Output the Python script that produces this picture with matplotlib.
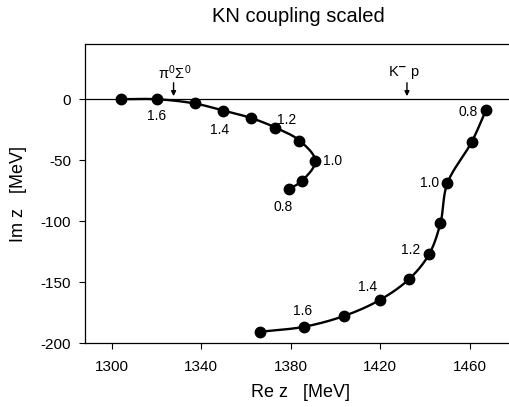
import numpy as np
import matplotlib
matplotlib.use("Agg")
import matplotlib.pyplot as plt

plt.rcParams['font.family'] = ['Liberation Sans', 'DejaVu Sans']
plt.rcParams['mathtext.fontset'] = 'custom'
plt.rcParams['mathtext.rm'] = 'Liberation Sans'
plt.rcParams['mathtext.it'] = 'Liberation Sans'
plt.rcParams['axes.unicode_minus'] = False

# coupling scale values
coupling = [1.7, 1.6, 1.5, 1.4, 1.3, 1.2, 1.1, 1.0, 0.9, 0.8]

# pole 1 (near pi0 Sigma0 threshold)
pole1_re = [1304.1, 1320.0, 1337.1, 1349.9, 1362.1, 1373.1, 1383.9, 1391.0, 1384.9, 1379.1]
pole1_im = [0.0, 0.0, -3.5, -9.3, -15.3, -23.2, -33.9, -50.6, -67.0, -73.8]

# pole 2 (near K- p threshold)
pole2_re = [1366.1, 1385.8, 1404.0, 1419.9, 1432.9, 1441.8, 1446.9, 1450.0, 1460.9, 1467.4]
pole2_im = [-190.6, -186.5, -177.5, -164.4, -147.4, -127.2, -101.7, -68.9, -35.0, -8.5]

labels1 = {1.6: (0, 17), 1.4: (-4, 19), 1.2: (11, -8), 1.0: (17, 0), 0.8: (-6, 18)}
labels2 = {1.6: (-1, -16), 1.4: (-12, -13), 1.2: (-18, -4), 1.0: (-18, 0), 0.8: (-18, 2)}

thresholds = [1327.6, 1431.95]
threshold_labels = [r'$\pi^0\Sigma^0$', r'K$^{\mathbf{-}}$ p']
threshold_label_dx = [0.5, -1.2]

xticks = [1300, 1340, 1380, 1420, 1460]
yticks = [0, -50, -100, -150, -200]


def catmull_rom(x, y, sx=2.244, sy=1.22, n=20):
    P = np.column_stack([np.asarray(x) * sx, np.asarray(y) * sy])
    P = np.vstack([2 * P[0] - P[1], P, 2 * P[-1] - P[-2]])
    out = []
    for i in range(1, len(P) - 2):
        p0, p1, p2, p3 = P[i - 1], P[i], P[i + 1], P[i + 2]
        def tj(ti, a, b):
            return ti + np.sqrt(np.linalg.norm(b - a)) + 1e-9
        t0 = 0.0
        t1 = tj(t0, p0, p1)
        t2 = tj(t1, p1, p2)
        t3 = tj(t2, p2, p3)
        t = np.linspace(t1, t2, n)[:, None]
        A1 = (t1 - t) / (t1 - t0) * p0 + (t - t0) / (t1 - t0) * p1
        A2 = (t2 - t) / (t2 - t1) * p1 + (t - t1) / (t2 - t1) * p2
        A3 = (t3 - t) / (t3 - t2) * p2 + (t - t2) / (t3 - t2) * p3
        B1 = (t2 - t) / (t2 - t0) * A1 + (t - t0) / (t2 - t0) * A2
        B2 = (t3 - t) / (t3 - t1) * A2 + (t - t1) / (t3 - t1) * A3
        C = (t2 - t) / (t2 - t1) * B1 + (t - t1) / (t2 - t1) * B2
        out.append(C)
    C = np.vstack(out)
    return C[:, 0] / sx, C[:, 1] / sy


fig = plt.figure(figsize=(5.10, 4.07), dpi=100)
ax = fig.add_axes([85 / 510, 1 - 343.3 / 407, 1 - 85 / 510 + 0.01, (343.3 - 44.3) / 407])
ax.set_xlim(1288, 1480.3)
ax.set_ylim(-200, 45)

ax.axhline(0, color='black', lw=0.9, zorder=1)

for re, im in [(pole1_re, pole1_im), (pole2_re, pole2_im)]:
    cx, cy = catmull_rom(re, im)
    ax.plot(cx, cy, color='black', lw=1.7, zorder=2)
    ax.plot(re, im, 'o', color='black', ms=7.5, zorder=3)

for re, im, labs in [(pole1_re, pole1_im, labels1), (pole2_re, pole2_im, labels2)]:
    for c, x, y in zip(coupling, re, im):
        if c in labs:
            dx, dy = labs[c]
            ax.annotate(f'{c:.1f}', (x, y), xytext=(dx, -dy), textcoords='offset pixels',
                        ha='center', va='center', fontsize=10)

for xt, lab, ddx in zip(thresholds, threshold_labels, threshold_label_dx):
    ax.annotate('', xy=(xt, 2.5), xytext=(xt, 13.5),
                arrowprops=dict(arrowstyle='-|>', color='black', lw=1.0,
                                mutation_scale=7, shrinkA=0, shrinkB=0))
    ax.text(xt + ddx, 22, lab, ha='center', va='center', fontsize=10.5)

ax.set_xticks(xticks)
ax.set_yticks(yticks)
ax.tick_params(direction='out', length=4, width=0.8, labelsize=11)
ax.tick_params(axis='x', pad=8)
ax.tick_params(axis='y', pad=6)
ax.spines['right'].set_visible(False)
for s in ['left', 'bottom', 'top']:
    ax.spines[s].set_linewidth(0.9)

ax.set_xlabel('Re z   [MeV]', fontsize=13, labelpad=7)
ax.set_ylabel('Im z   [MeV]', fontsize=13, labelpad=10)
fig.text(298.5 / 510, 1 - 16 / 407, 'KN coupling scaled', ha='center', va='center', fontsize=14.5)

fig.savefig('out.png', dpi=100)
